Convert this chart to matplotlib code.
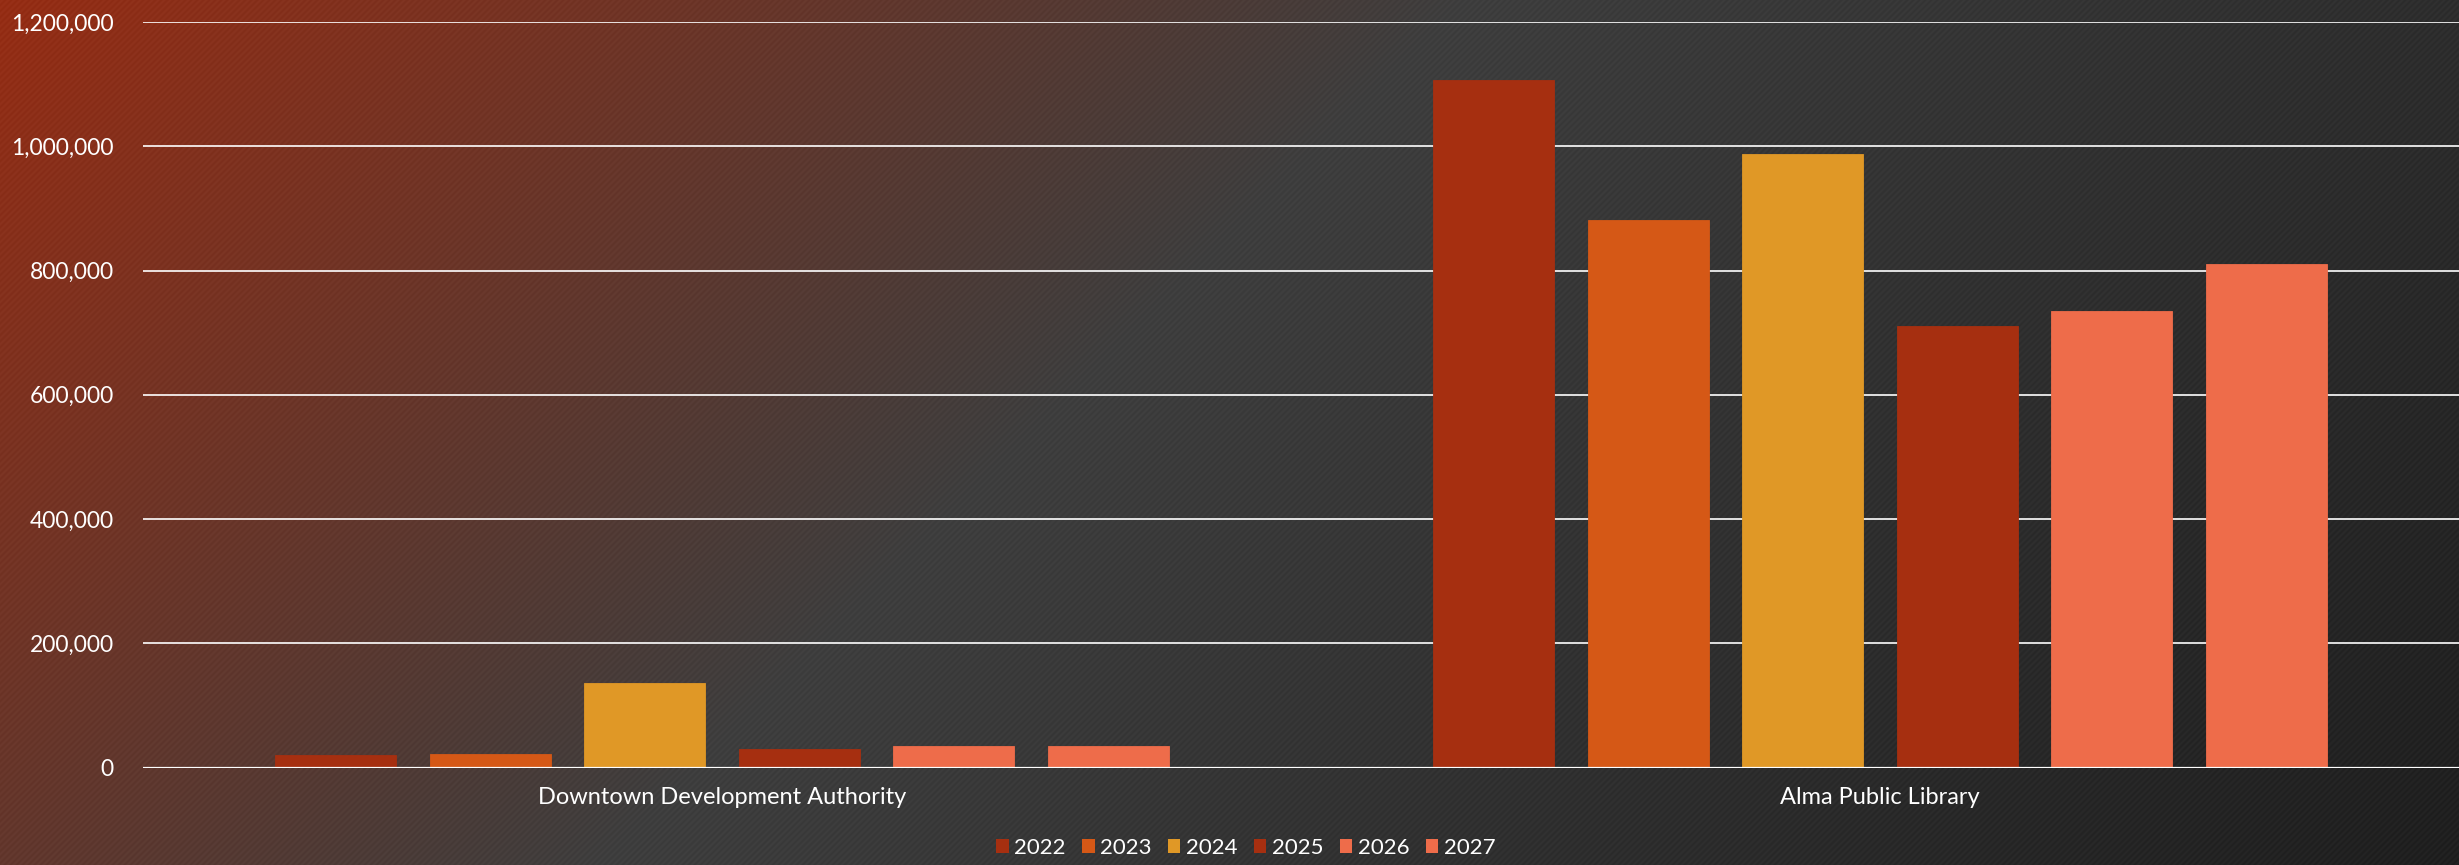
import numpy as np
import matplotlib
matplotlib.use("Agg")
import matplotlib.pyplot as plt
from matplotlib.ticker import FuncFormatter
from matplotlib.patches import Patch

# data
categories = ["Downtown Development Authority", "Alma Public Library"]
years = ["2022", "2023", "2024", "2025", "2026", "2027"]
values = {
    "2022": [20400, 1106500],
    "2023": [22500, 881700],
    "2024": [135800, 986900],
    "2025": [30100, 710200],
    "2026": [34900, 735300],
    "2027": [34900, 810400],
}
colors = ["#A62F10", "#D55816", "#E09826", "#A62F10", "#EE6C4A", "#EE6C4A"]
yticks = [0, 200000, 400000, 600000, 800000, 1000000, 1200000]

plt.rcParams["font.family"] = ["Lato", "DejaVu Sans"]

W, H = 2459, 865
fig = plt.figure(figsize=(W / 100, H / 100), dpi=100)

# background: diagonal gradient, red-brown top-left to dark grey bottom-right
xx, yy = np.meshgrid(np.arange(W), np.arange(H))
t = (xx + yy) / (W + H)
c0 = np.array([150, 45, 20]) / 255
c1 = np.array([62, 62, 62]) / 255
c2 = np.array([31, 31, 31]) / 255
s = 0.44
img = np.empty((H, W, 3))
for k in range(3):
    img[..., k] = np.where(t < s,
                           c0[k] + (c1[k] - c0[k]) * (t / s),
                           c1[k] + (c2[k] - c1[k]) * ((t - s) / (1 - s)))
stripes = 0.012 * np.sin(2 * np.pi * (xx + yy) / 6.0)
img = np.clip(img + stripes[..., None], 0, 1)
bg = fig.add_axes([0, 0, 1, 1], zorder=-1)
bg.imshow(img, aspect="auto", interpolation="nearest")
bg.axis("off")

ax = fig.add_axes([143 / W, 1 - 767.7 / H, 1 - 143 / W, (767.7 - 21.9) / H])
ax.set_facecolor("none")

x = np.arange(len(categories))
step = 0.1334
width = 0.1043
for i, yr in enumerate(years):
    ax.bar(x + (i - 2.5) * step, values[yr], width=width, color=colors[i],
           edgecolor=colors[i], linewidth=0.6, zorder=3, label=yr)

ax.set_xlim(-0.5, 1.5)
ax.set_ylim(0, 1200000)
ax.set_yticks(yticks)
ax.yaxis.set_major_formatter(FuncFormatter(lambda v, p: f"{int(v):,}"))
ax.set_xticks(x)
ax.set_xticklabels(categories)
ax.grid(axis="y", color="white", linewidth=1.2, zorder=1)
ax.set_axisbelow(True)
for sp in ax.spines.values():
    sp.set_visible(False)
ax.tick_params(axis="y", length=0, pad=21, labelsize=16.5, labelcolor="white")
ax.tick_params(axis="x", length=0, pad=14, labelsize=17, labelcolor="white")
ax.axhline(0, color="white", linewidth=1.6, zorder=4)

handles = [Patch(facecolor=colors[i], label=yr) for i, yr in enumerate(years)]
fig.legend(handles=handles, loc="center", bbox_to_anchor=(1246 / W, 1 - 848 / H),
           ncol=6, frameon=False, fontsize=16, labelcolor="white",
           handlelength=0.55, handleheight=0.55, handletextpad=0.25,
           columnspacing=0.75)

fig.savefig("out.png", dpi=100)
